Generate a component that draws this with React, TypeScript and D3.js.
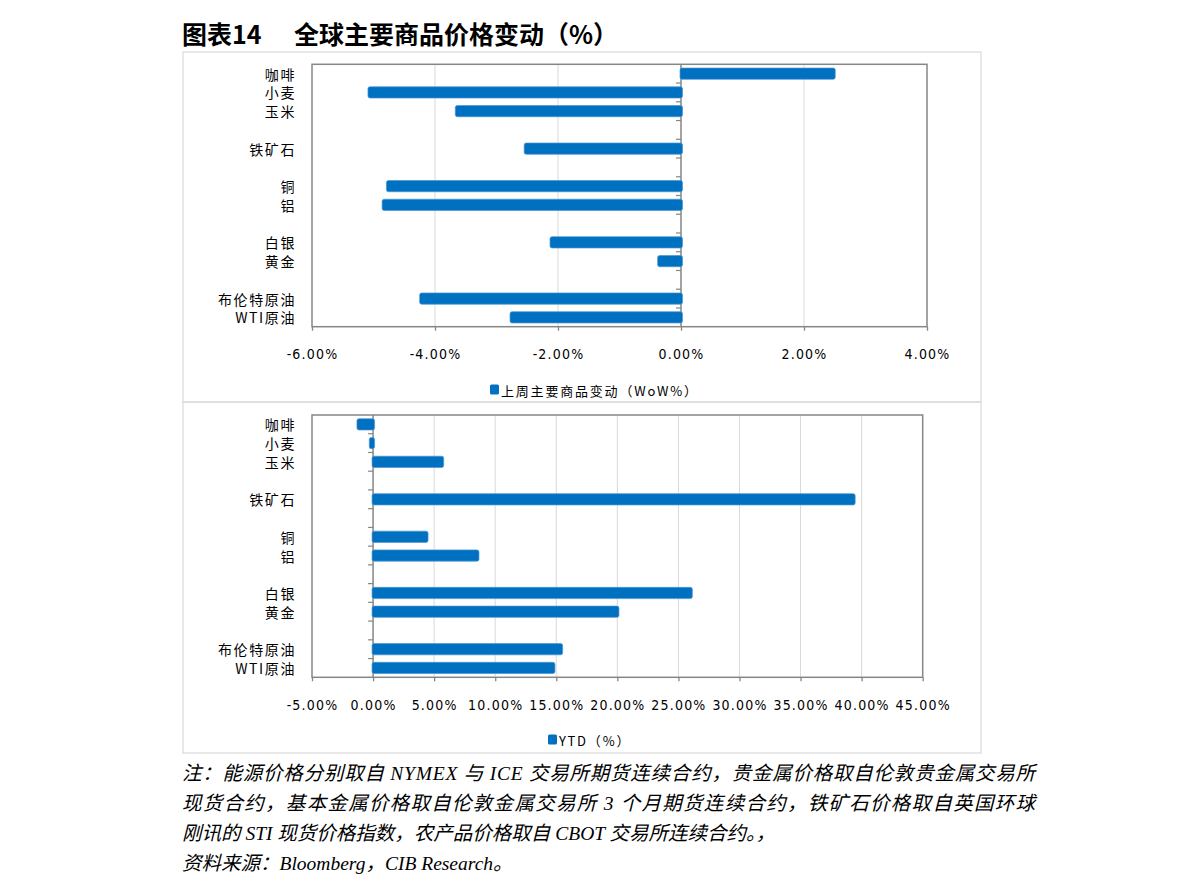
import React, { useEffect, useRef } from "react";
import * as d3 from "d3";

const categories = ["咖啡", "小麦", "玉米", "", "铁矿石", "", "铜", "铝", "", "白银", "黄金", "", "布伦特原油", "WTI原油"];
const wowValues: (number | null)[] = [2.5, -5.09, -3.67, null, -2.55, null, -4.79, -4.86, null, -2.13, -0.38, null, -4.25, -2.78];
const ytdValues: (number | null)[] = [-1.32, -0.31, 5.74, null, 39.43, null, 4.46, 8.63, null, 26.1, 20.09, null, 15.48, 14.85];
const wowTicks = [-6, -4, -2, 0, 2, 4];
const ytdTicks = [-5, 0, 5, 10, 15, 20, 25, 30, 35, 40, 45];
const wowLegend = "上周主要商品变动（WoW%）";
const ytdLegend = "YTD（%）";
const titleA = "图表14";
const titleB = "全球主要商品价格变动（%）";
const notes = [
  "注：能源价格分别取自 NYMEX 与 ICE 交易所期货连续合约，贵金属价格取自伦敦贵金属交易所",
  "现货合约，基本金属价格取自伦敦金属交易所 3 个月期货连续合约，铁矿石价格取自英国环球",
  "刚讯的 STI 现货价格指数，农产品价格取自 CBOT 交易所连续合约。，",
  "资料来源：Bloomberg，CIB Research。",
];

const BLUE = "#0070C0";
const AXIS = "#868686";
const GRID = "#d9d9d9";
const CJK = "'Noto Sans CJK SC', sans-serif";
const NUM = "'Liberation Sans Narrow', 'DejaVu Sans Condensed', sans-serif";

type Panel = {
  values: (number | null)[];
  ticks: number[];
  legend: string;
  frame: { x: number; y: number; w: number; h: number };
  plot: { l: number; r: number; t: number; b: number };
  tickY: number;
  legendX: number;
  legendY: number;
};

const panels: Panel[] = [
  {
    values: wowValues,
    ticks: wowTicks,
    legend: wowLegend,
    frame: { x: 183, y: 52, w: 798, h: 350 },
    plot: { l: 312, r: 927, t: 64.3, b: 326.7 },
    tickY: 354,
    legendX: 490,
    legendY: 390,
  },
  {
    values: ytdValues,
    ticks: ytdTicks,
    legend: ytdLegend,
    frame: { x: 183, y: 402, w: 798, h: 351 },
    plot: { l: 312, r: 922.7, t: 415, b: 677.3 },
    tickY: 705,
    legendX: 548,
    legendY: 740,
  },
];

export default function App() {
  const ref = useRef<SVGSVGElement>(null);

  useEffect(() => {
    const svg = d3.select(ref.current);
    svg.selectAll("*").remove();

    svg.append("rect").attr("width", 1191).attr("height", 896).attr("fill", "#fff");

    // title
    svg.append("text").attr("x", 182).attr("y", 44).attr("font-family", CJK).attr("font-weight", 700)
      .attr("font-size", 25).attr("fill", "#000").text(titleA);
    svg.append("text").attr("x", 294).attr("y", 44).attr("font-family", CJK).attr("font-weight", 700)
      .attr("font-size", 25).attr("fill", "#000").text(titleB);

    panels.forEach((p) => {
      const g = svg.append("g");
      g.append("rect").attr("x", p.frame.x).attr("y", p.frame.y).attr("width", p.frame.w).attr("height", p.frame.h)
        .attr("fill", "none").attr("stroke", GRID).attr("stroke-width", 1.2);

      const ext = d3.extent(p.ticks) as [number, number];
      const x = d3.scaleLinear().domain(ext).range([p.plot.l, p.plot.r]);
      const y = d3.scaleBand<number>().domain(d3.range(categories.length)).range([p.plot.t, p.plot.b]).paddingInner(0.4).paddingOuter(0.2);
      const step = y.step();

      // gridlines
      g.append("g").selectAll("line").data(p.ticks.filter((t) => t !== 0 && t !== ext[0] && t !== ext[1])).join("line")
        .attr("x1", (d) => x(d)).attr("x2", (d) => x(d)).attr("y1", p.plot.t).attr("y2", p.plot.b)
        .attr("stroke", GRID).attr("stroke-width", 1);

      // bottom axis (ticks + labels)
      const axis = d3.axisBottom(x).tickValues(p.ticks).tickSize(4).tickPadding(8)
        .tickFormat((d) => `${(+d).toFixed(2)}%`);
      const ag = g.append("g").attr("transform", `translate(0,${p.plot.b})`).call(axis);
      ag.select(".domain").remove();
      ag.selectAll(".tick line").attr("stroke", AXIS).attr("stroke-width", 1.3);
      ag.selectAll(".tick text").attr("font-family", NUM).attr("font-size", 14).attr("fill", "#000")
        .attr("letter-spacing", 1.2).attr("y", null).attr("dy", null)
        .attr("transform", `translate(0,${p.tickY - p.plot.b})`).attr("dominant-baseline", "central");

      // plot border
      g.append("rect").attr("x", p.plot.l).attr("y", p.plot.t).attr("width", p.plot.r - p.plot.l).attr("height", p.plot.b - p.plot.t)
        .attr("fill", "none").attr("stroke", AXIS).attr("stroke-width", 1.5);

      // zero axis line
      g.append("line").attr("x1", x(0)).attr("x2", x(0)).attr("y1", p.plot.t).attr("y2", p.plot.b)
        .attr("stroke", AXIS).attr("stroke-width", 1.5);

      // category boundary ticks on zero line
      g.append("g").selectAll("line").data(d3.range(1, categories.length)).join("line")
        .attr("x1", x(0) - 5).attr("x2", x(0)).attr("y1", (d) => p.plot.t + d * step).attr("y2", (d) => p.plot.t + d * step)
        .attr("stroke", AXIS).attr("stroke-width", 1.2);

      // bars
      const data = p.values.map((v, i) => ({ v, i })).filter((d) => d.v !== null) as { v: number; i: number }[];
      g.append("g").selectAll("rect").data(data).join("rect")
        .attr("x", (d) => Math.min(x(d.v), x(0)) - (d.v < 0 ? 0 : 1))
        .attr("width", (d) => Math.abs(x(d.v) - x(0)) + 1.5)
        .attr("y", (d) => y(d.i)!)
        .attr("height", y.bandwidth())
        .attr("rx", 2)
        .attr("fill", BLUE)
        .attr("stroke", "#4b95d6")
        .attr("stroke-width", 0.7);

      // category labels
      g.append("g").selectAll("text").data(categories.map((c, i) => ({ c, i })).filter((d) => d.c !== "")).join("text")
        .attr("x", 296).attr("y", (d) => y(d.i)! + y.bandwidth() / 2)
        .attr("dominant-baseline", "central").attr("text-anchor", "end")
        .attr("font-family", CJK).attr("font-size", 14).attr("letter-spacing", 1.6).attr("fill", "#000")
        .text((d) => d.c);

      // legend
      g.append("rect").attr("x", p.legendX).attr("y", p.legendY - 5.5).attr("width", 9).attr("height", 10).attr("rx", 1.5).attr("fill", BLUE);
      g.append("text").attr("x", p.legendX + 11).attr("y", p.legendY).attr("dominant-baseline", "central")
        .attr("font-family", CJK).attr("font-size", 13).attr("letter-spacing", 1.8).attr("fill", "#000").text(p.legend);
    });

    // notes
    const noteY = [773, 803, 833, 863];
    notes.forEach((n, i) => {
      const t = svg.append("text").attr("x", 182).attr("y", noteY[i]).attr("dominant-baseline", "central")
        .attr("font-family", "'Liberation Serif', 'Noto Sans CJK SC', serif").attr("font-style", "italic")
        .attr("font-size", 19.5).attr("fill", "#000").text(n);
      if (i < 2) t.attr("textLength", 853).attr("lengthAdjust", "spacing");
    });
  }, []);

  return <svg ref={ref} width={1191} height={896} style={{ position: "absolute", left: 0, top: 0 }} />;
}
